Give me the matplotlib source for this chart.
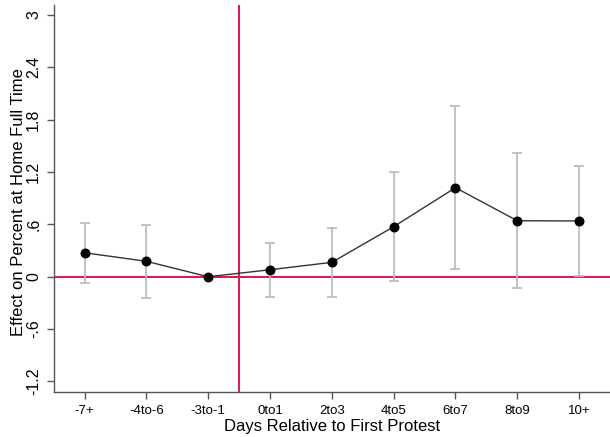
import matplotlib
matplotlib.use("Agg")
import matplotlib.pyplot as plt

categories = ["-7+", "-4to-6", "-3to-1", "0to1", "2to3", "4to5", "6to7", "8to9", "10+"]
estimates = [0.275, 0.177, 0.0, 0.08, 0.165, 0.573, 1.021, 0.642, 0.639]
ci_low = [-0.072, -0.244, None, -0.233, -0.236, -0.053, 0.088, -0.13, 0.011]
ci_high = [0.62, 0.596, None, 0.39, 0.562, 1.204, 1.954, 1.419, 1.266]
yticks = [-1.2, -0.6, 0, 0.6, 1.2, 1.8, 2.4, 3]
ytick_labels = ["-1.2", "-.6", "0", ".6", "1.2", "1.8", "2.4", "3"]

plt.rcParams['font.family'] = ['Liberation Sans', 'DejaVu Sans']

fig = plt.figure(figsize=(6.1, 4.37), dpi=100)
ax = fig.add_axes([0.0879, 0.104, 0.9121, 0.8846])

x = list(range(len(categories)))
red = '#d4214f'

ax.axhline(0, color=red, lw=1.5, zorder=1)
ax.axvline(2.5, color=red, lw=1.5, zorder=1)

for xi, lo, hi in zip(x, ci_low, ci_high):
    if lo is None:
        continue
    ax.errorbar([xi], [(lo + hi) / 2], yerr=[[(hi - lo) / 2], [(hi - lo) / 2]],
                fmt='none', ecolor='#bdbdbd', elinewidth=1.3, capsize=3.5,
                capthick=1.3, zorder=2)

ax.plot(x, estimates, color='#333333', lw=1.0, zorder=3)
ax.scatter(x, estimates, s=38, color='black', zorder=4)

ax.set_xlim(-0.5, 8.5)
ax.set_ylim(-1.316, 3.115)
ax.set_xticks(x)
ax.set_xticklabels(categories, fontsize=9.5)
ax.set_yticks(yticks)
ax.set_yticklabels(ytick_labels, fontsize=11.5, rotation=90, va='center')

for s in ['top', 'right']:
    ax.spines[s].set_visible(False)
for s in ['left', 'bottom']:
    ax.spines[s].set_color('#555555')
    ax.spines[s].set_linewidth(1.0)
ax.tick_params(axis='both', direction='out', length=5, color='#555555', width=1.0)
ax.tick_params(axis='x', pad=5)
ax.tick_params(axis='y', pad=4)

ax.set_xlabel("Days Relative to First Protest", fontsize=12, labelpad=1)
fig.text(19 / 610, 1 - 202 / 437, "Effect on Percent at Home Full Time",
         fontsize=12, rotation=90, ha='center', va='center')

fig.savefig("out.png", dpi=100)
